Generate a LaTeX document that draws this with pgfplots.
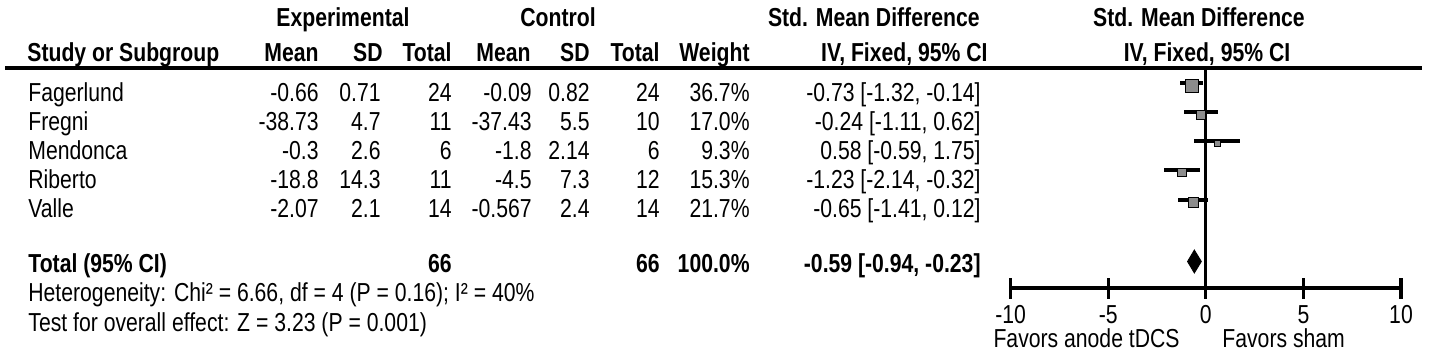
\documentclass[border=0pt]{standalone}
\usepackage{pgfplots}
\pgfplotsset{compat=1.18}
\usepackage{pgfplotstable}
\usepackage{fontspec}
\setmainfont{Liberation Sans}[FakeStretch=0.815]
\newcommand{\tf}{\fontsize{13pt}{15pt}\selectfont}

% study rows: SMD, CI, y of CI line (px, negative), y of square, square half-size (pt)
\pgfplotstableread{
name smd lo hi yl ys sz
Fagerlund -0.73 -1.32 -0.14 -83 -85.5 3.25
Fregni -0.24 -1.11 0.62 -112 -114.5 2.2
Mendonca 0.58 -0.59 1.75 -141 -143.5 1.63
Riberto -1.23 -2.14 -0.32 -170 -172.5 2.1
Valle -0.65 -1.41 0.12 -200 -202.5 2.5
}\studies

\newcommand{\R}[3]{\node[anchor=base east,inner sep=0pt] at (#1,#2) {#3};}
\newcommand{\Lf}[3]{\node[anchor=base west,inner sep=0pt] at (#1,#2) {#3};}
\newcommand{\C}[3]{\node[anchor=base,inner sep=0pt] at (#1,#2) {#3};}

\begin{document}
\begin{tikzpicture}
\useasboundingbox (0,0) rectangle (720pt,-179.5pt);
\begin{axis}[at={(505.35pt,-144pt)}, anchor=south west, scale only axis,
  width=195.15pt, height=110pt, xmin=-10, xmax=10, ymin=-288, ymax=-68,
  axis x line=bottom, axis y line=none,
  axis line style={line width=1.6pt,-},
  xtick={-10,-5,0,5,10}, xticklabels={-10,-5,0,5,10},
  major tick length=10.5pt, tick align=center,
  tick style={line width=1.6pt, black},
  xticklabel style={font=\tf, text=black, yshift=0pt},
  clip=false]
\addplot[black, line width=1.6pt] coordinates {(0,-68) (0,-288)};
\addplot[draw=none, mark=none, error bars/.cd, x dir=both, x explicit,
  error mark=none, error bar style={line width=1.6pt, black}]
  table[x=smd, y=yl, x error plus expr=\thisrow{hi}-\thisrow{smd},
        x error minus expr=\thisrow{smd}-\thisrow{lo}] {\studies};
\addplot[only marks, mark=square*, scatter, point meta=explicit,
  scatter/use mapped color={draw=none, fill=black!45},
  visualization depends on={\thisrow{sz} \as \msz},
  scatter/@pre marker code/.append style={/tikz/mark size=\msz}]
  table[x=smd, y=ys, meta=sz] {\studies};
\addplot[fill=black, draw=black] coordinates {(-0.94,-261.5) (-0.59,-250) (-0.23,-261.5) (-0.59,-273)} --cycle;
\end{axis}
\begin{scope}[x=0.5pt,y=-0.5pt,font=\tf]
\draw[line width=1.6pt] (5,68) -- (1422,68);
% header row 1
\C{343}{26}{\bfseries Experimental}
\C{558}{26}{\bfseries Control}
\R{980}{26}{\bfseries Std. Mean Difference}
\C{1199}{26}{\bfseries Std. Mean Difference}
% header row 2
\Lf{27}{61}{\bfseries Study or Subgroup}
\R{319}{61}{\bfseries Mean}
\R{383}{61}{\bfseries SD}
\R{452}{61}{\bfseries Total}
\R{531}{61}{\bfseries Mean}
\R{590}{61}{\bfseries SD}
\R{660}{61}{\bfseries Total}
\R{750}{61}{\bfseries Weight}
\R{988}{61}{\bfseries IV, Fixed, 95\% CI}
\C{1207}{61}{\bfseries IV, Fixed, 95\% CI}
% data rows
\Lf{28}{101}{Fagerlund}\R{319}{101}{-0.66}\R{381}{101}{0.71}\R{452}{101}{24}\R{532}{101}{-0.09}\R{590}{101}{0.82}\R{660}{101}{24}\R{750}{101}{36.7\%}\R{981}{101}{-0.73 [-1.32, -0.14]}
\Lf{28}{130}{Fregni}\R{319}{130}{-38.73}\R{381}{130}{4.7}\R{452}{130}{11}\R{532}{130}{-37.43}\R{590}{130}{5.5}\R{660}{130}{10}\R{750}{130}{17.0\%}\R{981}{130}{-0.24 [-1.11, 0.62]}
\Lf{28}{159}{Mendonca}\R{319}{159}{-0.3}\R{381}{159}{2.6}\R{452}{159}{6}\R{532}{159}{-1.8}\R{590}{159}{2.14}\R{660}{159}{6}\R{750}{159}{9.3\%}\R{981}{159}{0.58 [-0.59, 1.75]}
\Lf{28}{188}{Riberto}\R{319}{188}{-18.8}\R{381}{188}{14.3}\R{452}{188}{11}\R{532}{188}{-4.5}\R{590}{188}{7.3}\R{660}{188}{12}\R{750}{188}{15.3\%}\R{981}{188}{-1.23 [-2.14, -0.32]}
\Lf{28}{217}{Valle}\R{319}{217}{-2.07}\R{381}{217}{2.1}\R{452}{217}{14}\R{532}{217}{-0.567}\R{590}{217}{2.4}\R{660}{217}{14}\R{750}{217}{21.7\%}\R{981}{217}{-0.65 [-1.41, 0.12]}
% total
\Lf{28}{272}{\bfseries Total (95\% CI)}\R{452}{272}{\bfseries 66}\R{660}{272}{\bfseries 66}\R{750}{272}{\bfseries 100.0\%}\R{981}{272}{\bfseries -0.59 [-0.94, -0.23]}
\Lf{28}{301}{Heterogeneity: Chi² = 6.66, df = 4 (P = 0.16); I² = 40\%}
\Lf{28}{331}{Test for overall effect: Z = 3.23 (P = 0.001)}
% favours
\R{1180}{347}{Favors anode tDCS}
\Lf{1222}{347}{Favors sham}
\end{scope}
\end{tikzpicture}
\end{document}
